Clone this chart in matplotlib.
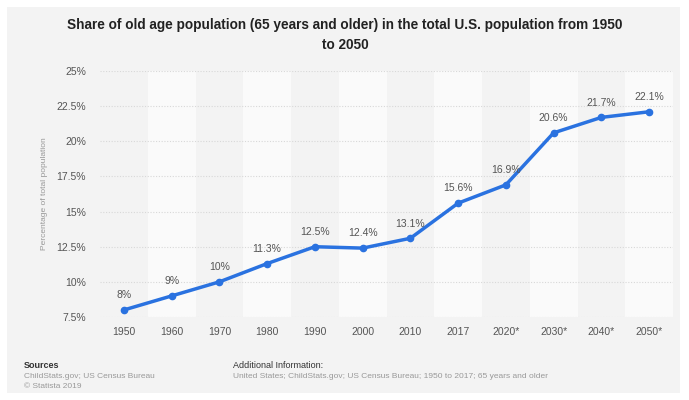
import matplotlib
matplotlib.use('Agg')
import matplotlib.pyplot as plt
from matplotlib.patches import Rectangle

# Chart data
years = ['1950', '1960', '1970', '1980', '1990', '2000', '2010', '2017',
         '2020*', '2030*', '2040*', '2050*']
share = [8.0, 9.0, 10.0, 11.3, 12.5, 12.4, 13.1, 15.6, 16.9, 20.6, 21.7, 22.1]
value_labels = ['8%', '9%', '10%', '11.3%', '12.5%', '12.4%', '13.1%', '15.6%',
                '16.9%', '20.6%', '21.7%', '22.1%']
y_ticks = [7.5, 10, 12.5, 15, 17.5, 20, 22.5, 25]
y_tick_labels = ['7.5%', '10%', '12.5%', '15%', '17.5%', '20%', '22.5%', '25%']

plt.rcParams['font.family'] = ['Liberation Sans', 'DejaVu Sans']

fig = plt.figure(figsize=(6.89, 4.0), dpi=100)
fig.patch.set_facecolor('white')

# grey card behind everything
fig.patches.append(Rectangle((7 / 689, 7 / 400), 673 / 689, 386 / 400,
                             transform=fig.transFigure, facecolor='#f3f3f3',
                             edgecolor='none', zorder=-10))

ax = fig.add_axes([100 / 689, 1 - 317 / 400, 573 / 689, 246 / 400])
ax.set_facecolor('#f3f3f3')

x = list(range(len(years)))

# alternating column bands
for i in x:
    if i % 2 == 1:
        ax.axvspan(i - 0.5, i + 0.5, color='#fafafa', zorder=0, lw=0)

ax.set_xlim(-0.5, len(years) - 0.5)
ax.set_ylim(7.5, 25)
ax.set_yticks(y_ticks)
ax.set_yticklabels(y_tick_labels)
ax.set_xticks(x)
ax.set_xticklabels(years)
ax.grid(axis='y', color='#d8d8d8', linestyle=(0, (1, 1.5)), linewidth=0.8, zorder=1)
ax.tick_params(length=0, labelsize=7.5, labelcolor='#555555')
ax.tick_params(axis='y', pad=10)
ax.tick_params(axis='x', pad=7)
for s in ax.spines.values():
    s.set_visible(False)

ax.plot(x, share, color='#2a72e0', linewidth=2.5, marker='o', markersize=4.5,
        zorder=3, solid_capstyle='round')

for xi, yi, lab in zip(x, share, value_labels):
    ax.annotate(lab, (xi, yi), xytext=(0, 7), textcoords='offset points',
                ha='center', va='bottom', fontsize=7.5, color='#555555', zorder=4)

ax.set_ylabel('Percentage of total population', fontsize=6, color='#999999')
ax.yaxis.set_label_coords(-0.09, 0.5)

fig.text(345 / 689, 1 - 25 / 400,
         'Share of old age population (65 years and older) in the total U.S. population from 1950',
         ha='center', va='center', fontsize=9.8, fontweight='bold', color='#222222')
fig.text(345 / 689, 1 - 45 / 400, 'to 2050',
         ha='center', va='center', fontsize=9.8, fontweight='bold', color='#222222')

# footer
fig.text(24 / 689, 1 - 366 / 400, 'Sources', fontsize=6.5, color='#333333',
         fontweight='bold', va='center')
fig.text(24 / 689, 1 - 376 / 400, 'ChildStats.gov; US Census Bureau', fontsize=6,
         color='#999999', va='center')
fig.text(24 / 689, 1 - 386 / 400, '\u00a9 Statista 2019', fontsize=6,
         color='#999999', va='center')
fig.text(233 / 689, 1 - 366 / 400, 'Additional Information:', fontsize=6.5,
         color='#333333', va='center')
fig.text(233 / 689, 1 - 376 / 400,
         'United States; ChildStats.gov; US Census Bureau; 1950 to 2017; 65 years and older',
         fontsize=6, color='#999999', va='center')

fig.savefig('out.png', dpi=100, facecolor=fig.get_facecolor())
